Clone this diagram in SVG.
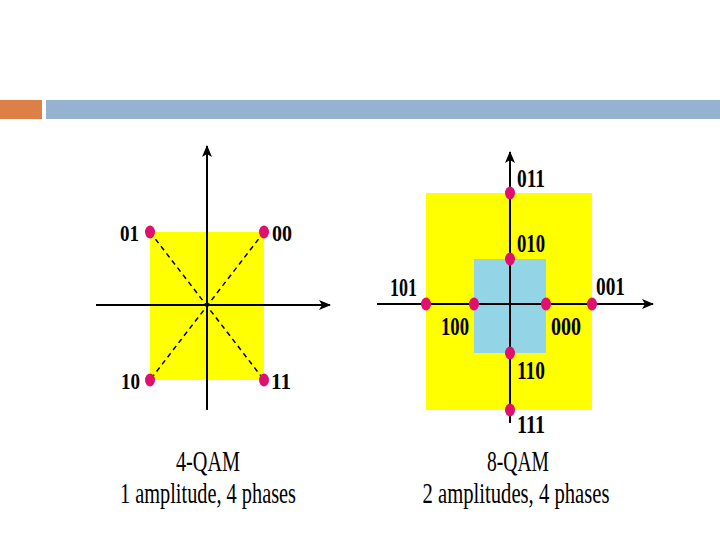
<svg xmlns="http://www.w3.org/2000/svg" width="720" height="540" viewBox="0 0 720 540">
<defs>
<style>
.axis{stroke:#000;stroke-width:2;fill:none}
.dash{stroke:#000;stroke-width:1.5;stroke-dasharray:5,4;fill:none}
.dot{fill:#e0106e}
.lbl{font-family:"Liberation Serif",serif;font-weight:bold;font-size:25px;fill:#000}
.l4{font-size:24px}
.cap{font-family:"Liberation Serif",serif;font-size:30px;fill:#000;text-anchor:middle}
</style>
<marker id="arr" viewBox="0 0 12 10" refX="11" refY="5" markerWidth="12" markerHeight="10" markerUnits="userSpaceOnUse" orient="auto">
<path d="M0,0 L12,5 L0,10 L3,5 Z" fill="#000"/>
</marker>
</defs>
<rect width="720" height="540" fill="#fff"/>
<g id="header">
<rect x="0" y="100" width="42" height="19" fill="#dd8047"/>
<rect x="46" y="100" width="674" height="19" fill="#95b3d0"/>
</g>
<g id="qam4">
<rect x="150" y="232" width="114" height="148" fill="#ffff00"/>
<g id="qam4-connectors">
<line class="dash" x1="150" y1="232" x2="264" y2="380"/>
<line class="dash" x1="264" y1="232" x2="150" y2="380"/>
<line class="axis" x1="96" y1="305" x2="330" y2="305" marker-end="url(#arr)"/>
<line class="axis" x1="207" y1="410" x2="207" y2="146" marker-end="url(#arr)"/>
</g>
<g id="p01"><ellipse class="dot" cx="150" cy="232" rx="5" ry="6.5"/><text class="lbl l4" x="120" y="241" textLength="19" lengthAdjust="spacingAndGlyphs">01</text></g>
<g id="p00"><ellipse class="dot" cx="264" cy="232" rx="5" ry="6.5"/><text class="lbl l4" x="272" y="241" textLength="20" lengthAdjust="spacingAndGlyphs">00</text></g>
<g id="p10"><ellipse class="dot" cx="150" cy="380" rx="5" ry="6.5"/><text class="lbl l4" x="121" y="389" textLength="19" lengthAdjust="spacingAndGlyphs">10</text></g>
<g id="p11"><ellipse class="dot" cx="264" cy="380" rx="5" ry="6.5"/><text class="lbl l4" x="271" y="389" textLength="20" lengthAdjust="spacingAndGlyphs">11</text></g>
<text class="cap" x="208" y="471" textLength="64" lengthAdjust="spacingAndGlyphs">4-QAM</text>
<text class="cap" x="208" y="503" textLength="176" lengthAdjust="spacingAndGlyphs">1 amplitude, 4 phases</text>
</g>
<g id="qam8">
<rect x="426" y="193" width="166" height="217" fill="#ffff00"/>
<rect x="474" y="259" width="72" height="94" fill="#93d4e6"/>
<g id="qam8-connectors">
<line class="axis" x1="377" y1="304" x2="653" y2="304" marker-end="url(#arr)"/>
<line class="axis" x1="510" y1="423" x2="510" y2="152" marker-end="url(#arr)"/>
</g>
<g id="p011"><ellipse class="dot" cx="510" cy="193" rx="5" ry="6.5"/><text class="lbl" x="517" y="187" textLength="28" lengthAdjust="spacingAndGlyphs">011</text></g>
<g id="p010"><ellipse class="dot" cx="510" cy="259" rx="5" ry="6.5"/><text class="lbl" x="517" y="252" textLength="28" lengthAdjust="spacingAndGlyphs">010</text></g>
<g id="p110"><ellipse class="dot" cx="510" cy="353" rx="5" ry="6.5"/><text class="lbl" x="517" y="379" textLength="28" lengthAdjust="spacingAndGlyphs">110</text></g>
<g id="p111"><ellipse class="dot" cx="510" cy="410" rx="5" ry="6.5"/><text class="lbl" x="517" y="433" textLength="28" lengthAdjust="spacingAndGlyphs">111</text></g>
<g id="p101"><ellipse class="dot" cx="426" cy="304" rx="5" ry="6.5"/><text class="lbl" x="390" y="296" textLength="27" lengthAdjust="spacingAndGlyphs">101</text></g>
<g id="p100"><ellipse class="dot" cx="474" cy="304" rx="5" ry="6.5"/><text class="lbl" x="441" y="335" textLength="28" lengthAdjust="spacingAndGlyphs">100</text></g>
<g id="p000"><ellipse class="dot" cx="546" cy="304" rx="5" ry="6.5"/><text class="lbl" x="551" y="335" textLength="30" lengthAdjust="spacingAndGlyphs">000</text></g>
<g id="p001"><ellipse class="dot" cx="592" cy="304" rx="5" ry="6.5"/><text class="lbl" x="596" y="295" textLength="29" lengthAdjust="spacingAndGlyphs">001</text></g>
<text class="cap" x="518" y="471" textLength="62" lengthAdjust="spacingAndGlyphs">8-QAM</text>
<text class="cap" x="516" y="503" textLength="187" lengthAdjust="spacingAndGlyphs">2 amplitudes, 4 phases</text>
</g>
</svg>
